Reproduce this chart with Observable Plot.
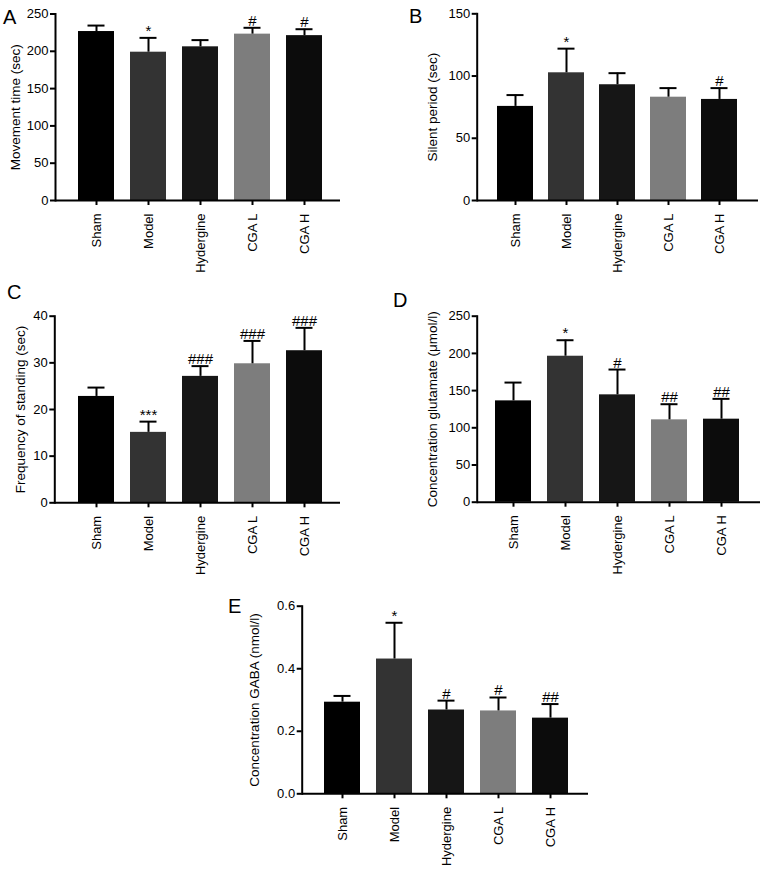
<!DOCTYPE html>
<html>
<head>
<meta charset="utf-8">
<script src="https://cdn.jsdelivr.net/npm/d3@7"></script>
<script src="https://cdn.jsdelivr.net/npm/@observablehq/plot@0.6"></script>
<style>
  html, body { margin: 0; padding: 0; background: #fff; }
  #root { position: relative; width: 765px; height: 871px; font-family: "Liberation Sans", Arial, sans-serif; }
  #root svg { position: absolute; overflow: visible; }
  .letter { position: absolute; font-size: 20px; line-height: 20px; color: #000; }
</style>
</head>
<body>
<div id="root"></div>
<script>
// ---- data ----
const groups = ["Sham", "Model", "Hydergine", "CGA L", "CGA H"];
const barColors = ["#000000", "#333333", "#161616", "#7d7d7d", "#0c0c0c"];

const movementMean = [226.5, 198.8, 206, 223, 221];
const movementSD   = [8, 19.2, 9, 8.5, 8.6];
const movementSig  = ["", "*", "", "#", "#"];

const silentMean = [75.6, 102.6, 93, 83, 81.2];
const silentSD   = [9.1, 19.4, 9.3, 7.3, 9.1];
const silentSig  = ["", "*", "", "", "#"];

const standingMean = [22.8, 15.1, 27.1, 29.8, 32.6];
const standingSD   = [1.9, 2.3, 2.2, 4.9, 4.9];
const standingSig  = ["", "***", "###", "###", "###"];

const glutamateMean = [136.2, 196.2, 144.3, 110.7, 111.6];
const glutamateSD   = [24.6, 21.5, 34, 21, 27.3];
const glutamateSig  = ["", "*", "#", "##", "##"];

const gabaMean = [0.293, 0.431, 0.268, 0.265, 0.242];
const gabaSD   = [0.020, 0.116, 0.030, 0.043, 0.045];
const gabaSig  = ["", "*", "#", "#", "##"];

const ticksA = [0, 50, 100, 150, 200, 250];
const ticksB = [0, 50, 100, 150];
const ticksC = [0, 10, 20, 30, 40];
const ticksD = [0, 50, 100, 150, 200, 250];
const ticksE = [0, 0.2, 0.4, 0.6];

const FONT = '"Liberation Sans", Arial, sans-serif';
const root = document.getElementById("root");

function panel(o) {
  const rows = groups.map((g, i) => ({
    group: g, mean: o.mean[i], top: o.mean[i] + o.sd[i], sig: o.sig[i], color: barColors[i]
  }));
  const chart = Plot.plot({
    width: o.width, height: o.height,
    marginLeft: o.ml, marginRight: o.mr, marginTop: o.mt, marginBottom: o.mb,
    style: { fontFamily: FONT, fontSize: "13px", color: "#000", background: "transparent", overflow: "visible" },
    x: { domain: groups, paddingInner: 0.3, paddingOuter: 0.36, align: o.align, axis: null },
    y: { domain: o.domain, axis: null },
    color: { type: "identity" },
    marks: [
      Plot.barY(rows, { x: "group", y: "mean", fill: "color" }),
      Plot.ruleX(rows, { x: "group", y1: "mean", y2: "top", stroke: "#000", strokeWidth: 2 }),
      Plot.tickY(rows, { x: "group", y: "top", stroke: "#000", strokeWidth: 2, insetLeft: 9.5, insetRight: 9.5 }),
      Plot.text(rows, { x: "group", y: "top", text: "sig", lineAnchor: "bottom", dy: -2, fontSize: 15, fill: "#000", fontFamily: FONT }),
      Plot.axisY({ ticks: o.ticks, tickFormat: o.fmt, tickSize: 5, tickPadding: 2, strokeWidth: 2, fontSize: 13, label: null, fontFamily: FONT }),
      Plot.axisX({ tickSize: 5, tickPadding: 8, tickRotate: -90, strokeWidth: 2, fontSize: 13, label: null, fontFamily: FONT }),
      Plot.ruleY([0], { stroke: "#000", strokeWidth: 2 }),
      Plot.frame({ anchor: "left", stroke: "#000", strokeWidth: 2 }),
      Plot.text([o.label], { frameAnchor: "left", textAnchor: "middle", dx: o.labelDx, rotate: -90, fontSize: 13.5, fill: "#000", fontFamily: FONT })
    ]
  });
  chart.style.left = o.left + "px";
  chart.style.top = o.top + "px";
  root.appendChild(chart);

  const L = document.createElement("div");
  L.className = "letter";
  L.textContent = o.letter;
  L.style.left = o.letterX + "px";
  L.style.top = o.letterY + "px";
  root.appendChild(L);
}

panel({ letter: "A", letterX: 3, letterY: 7, left: 0, top: 0, width: 380, height: 280,
  ml: 55, mr: 40, mt: 13.5, mb: 80, align: 0.56,
  mean: movementMean, sd: movementSD, sig: movementSig, domain: [0, 250], ticks: ticksA, fmt: d3.format("d"),
  label: "Movement time (sec)", labelDx: -40 });

panel({ letter: "B", letterX: 409, letterY: 6, left: 380, top: 0, width: 385, height: 280,
  ml: 96.7, mr: 7, mt: 13.3, mb: 80, align: 0.49,
  mean: silentMean, sd: silentSD, sig: silentSig, domain: [0, 150], ticks: ticksB, fmt: d3.format("d"),
  label: "Silent period (sec)", labelDx: -45 });

panel({ letter: "C", letterX: 7, letterY: 282, left: 0, top: 280, width: 380, height: 300,
  ml: 54.3, mr: 40, mt: 35.7, mb: 77.7, align: 0.57,
  mean: standingMean, sd: standingSD, sig: standingSig, domain: [0, 40], ticks: ticksC, fmt: d3.format("d"),
  label: "Frequency of standing (sec)", labelDx: -34 });

panel({ letter: "D", letterX: 393, letterY: 290, left: 380, top: 280, width: 385, height: 300,
  ml: 96.7, mr: 5, mt: 35.7, mb: 78.3, align: 0.48,
  mean: glutamateMean, sd: glutamateSD, sig: glutamateSig, domain: [0, 250], ticks: ticksD, fmt: d3.format("d"),
  label: "Concentration glutamate (\u03bcmol/l)", labelDx: -45 });

panel({ letter: "E", letterX: 228, letterY: 596, left: 200, top: 570, width: 400, height: 301,
  ml: 101.7, mr: 12, mt: 35.7, mb: 77.7, align: 0.54,
  mean: gabaMean, sd: gabaSD, sig: gabaSig, domain: [0, 0.6], ticks: ticksE, fmt: d3.format(".1f"),
  label: "Concentration GABA (nmol/l)", labelDx: -48 });
</script>
</body>
</html>
